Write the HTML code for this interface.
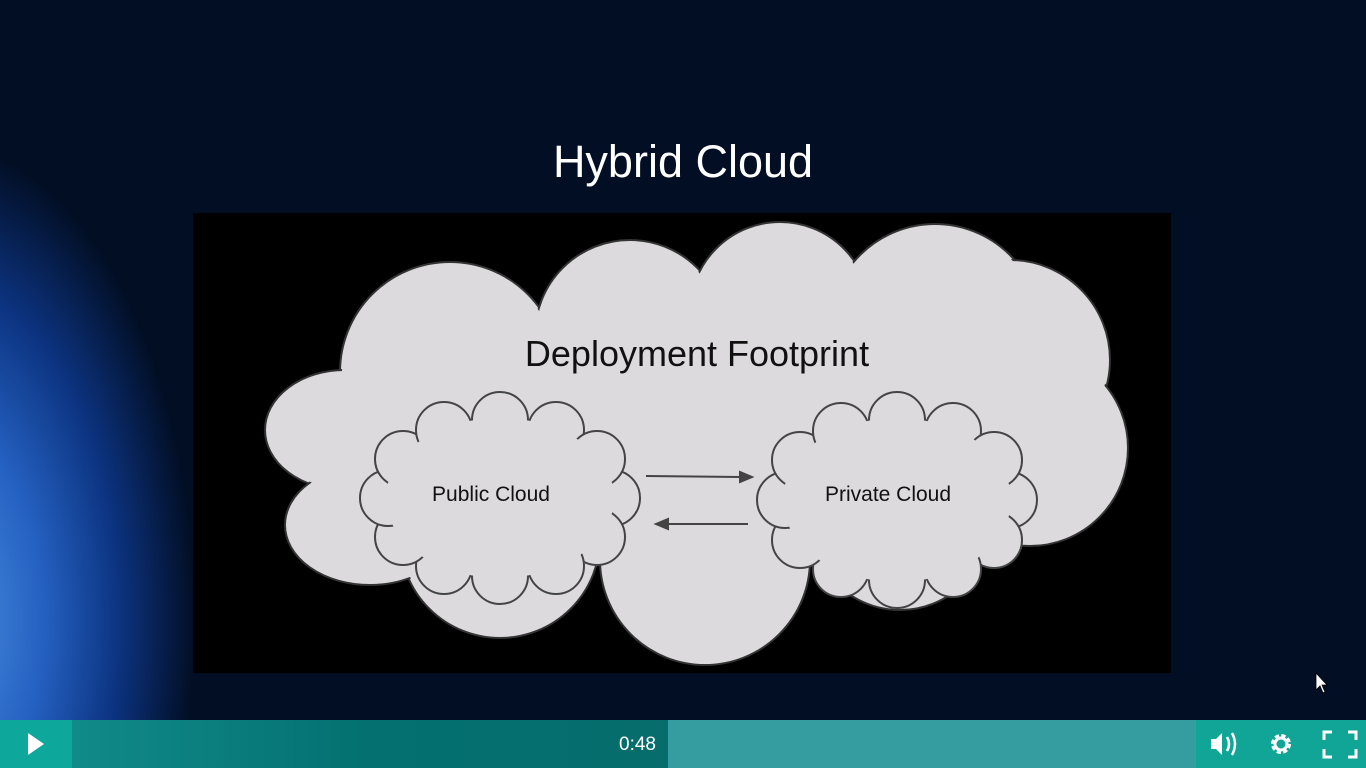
<!DOCTYPE html>
<html><head><style>
html,body{margin:0;padding:0}
body{width:1366px;height:768px;overflow:hidden;position:relative;background:#020e24;font-family:"Liberation Sans",sans-serif}
.bg{position:absolute;left:0;top:0;width:1366px;height:720px;
background:radial-gradient(ellipse 300px 560px at -60px 620px,#4f92e6 0%,#2460c0 35%,#0c3380 60%,rgba(2,14,36,0) 85%),#020e24}
.title{position:absolute;left:0;width:1366px;top:136px;text-align:center;color:#fff;font-size:45px;font-family:"Liberation Sans",sans-serif}
.bar{position:absolute;left:0;top:720px;width:1366px;height:48px}
</style></head><body>
<div class="bg"></div>
<div class="title">Hybrid Cloud</div>
<svg style="position:absolute;left:0;top:0" width="1366" height="768">
<rect x="193" y="213" width="978" height="460" fill="#000"/>
<g fill="#dcdadd" stroke="#333" stroke-width="2">
<circle cx="450" cy="372" r="110"/><circle cx="630" cy="335" r="95"/><circle cx="780" cy="312" r="90"/>
<circle cx="935" cy="330" r="106"/><circle cx="1010" cy="360" r="100"/><circle cx="1030" cy="448" r="98"/>
<circle cx="900" cy="520" r="90"/><circle cx="705" cy="560" r="105"/><circle cx="500" cy="538" r="100"/>
<ellipse cx="345" cy="430" rx="80" ry="60"/><ellipse cx="370" cy="525" rx="85" ry="60"/>
</g>
<g fill="#dcdadd">
<circle cx="450" cy="372" r="108"/><circle cx="630" cy="335" r="93"/><circle cx="780" cy="312" r="88"/>
<circle cx="935" cy="330" r="104"/><circle cx="1010" cy="360" r="98"/><circle cx="1030" cy="448" r="96"/>
<circle cx="900" cy="520" r="88"/><circle cx="705" cy="560" r="103"/><circle cx="500" cy="538" r="98"/>
<ellipse cx="345" cy="430" rx="78" ry="58"/><ellipse cx="370" cy="525" rx="83" ry="58"/>
<rect x="420" y="330" width="540" height="210"/>
</g>
<g fill="#dcdadd" stroke="#444" stroke-width="2">
<circle cx="612" cy="498" r="28"/><circle cx="597" cy="537" r="28"/><circle cx="556" cy="566" r="28"/><circle cx="500" cy="576" r="28"/><circle cx="444" cy="566" r="28"/><circle cx="403" cy="537" r="28"/><circle cx="388" cy="498" r="28"/><circle cx="403" cy="459" r="28"/><circle cx="444" cy="430" r="28"/><circle cx="500" cy="420" r="28"/><circle cx="556" cy="430" r="28"/><circle cx="597" cy="459" r="28"/>
<circle cx="1009" cy="500" r="28"/><circle cx="994" cy="540" r="28"/><circle cx="953" cy="569" r="28"/><circle cx="897" cy="580" r="28"/><circle cx="841" cy="569" r="28"/><circle cx="800" cy="540" r="28"/><circle cx="785" cy="500" r="28"/><circle cx="800" cy="460" r="28"/><circle cx="841" cy="431" r="28"/><circle cx="897" cy="420" r="28"/><circle cx="953" cy="431" r="28"/><circle cx="994" cy="460" r="28"/>
</g>
<g fill="#dcdadd">
<ellipse cx="500" cy="498" rx="114" ry="80"/><ellipse cx="897" cy="500" rx="114" ry="82"/>
</g>
<g stroke="#444" stroke-width="2" fill="#444">
<line x1="646" y1="476" x2="740" y2="477"/><polygon points="752,477 740,472 740,482"/>
<line x1="668" y1="524" x2="748" y2="524"/><polygon points="656,524 668,519 668,529"/>
</g>
<text x="697" y="366" font-size="36" text-anchor="middle" fill="#111" font-family="Liberation Sans,sans-serif">Deployment Footprint</text>
<text x="491" y="501" font-size="21" text-anchor="middle" fill="#111" font-family="Liberation Sans,sans-serif">Public Cloud</text>
<text x="888" y="501" font-size="21" text-anchor="middle" fill="#111" font-family="Liberation Sans,sans-serif">Private Cloud</text>
<polygon points="1316,673 1316,690 1320,686 1323,693 1325,692 1322,685 1327,685" fill="#fff" stroke="#000" stroke-width="0.8"/>
</svg>
<div class="bar">
<div style="position:absolute;left:0;top:0;width:72px;height:48px;background:#0ea79b"></div>
<div style="position:absolute;left:72px;top:0;width:596px;height:48px;background:linear-gradient(90deg,#118a8a,#047070 50%,#066c6c)"></div>
<div style="position:absolute;left:668px;top:0;width:528px;height:48px;background:#359d9f"></div>
<div style="position:absolute;left:1196px;top:0;width:170px;height:48px;background:#10a597"></div>
<svg style="position:absolute;left:0;top:0" width="1366" height="48">
<polygon points="28,13 28,35 44,24" fill="#fff"/>
<text x="656" y="30" font-size="19" fill="#fff" text-anchor="end" font-family="Liberation Sans,sans-serif">0:48</text>
<polygon points="1211,19 1216,19 1222,13 1222,35 1216,29 1211,29" fill="#fff"/>
<path d="M1227 17 Q1231 24 1227 31 M1232 13 Q1238 24 1232 35" stroke="#fff" stroke-width="2.5" fill="none"/>
<circle cx="1281" cy="24" r="8" fill="none" stroke="#fff" stroke-width="4" stroke-dasharray="4 2.3"/>
<circle cx="1281" cy="24" r="6" fill="none" stroke="#fff" stroke-width="3"/>
<path d="M1324 20 V12 H1332 M1348 12 H1356 V20 M1356 29 V37 H1348 M1332 37 H1324 V29" stroke="#fff" stroke-width="3" fill="none"/>
</svg>
</div>
</body></html>
